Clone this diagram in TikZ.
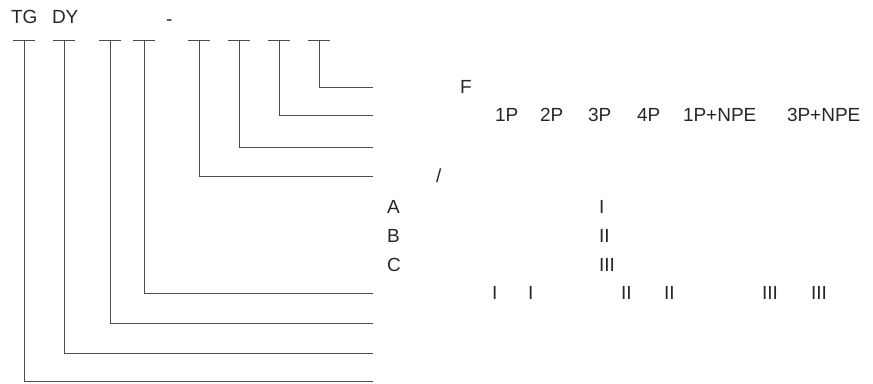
\documentclass[tikz,border=0pt]{standalone}
\usepackage{fontspec}
\setmainfont{Liberation Sans}
\begin{document}
\begin{tikzpicture}[x=1pt,y=-1pt,
  lbl/.style={anchor=west,inner sep=0pt,outer sep=0pt,text height=13.6pt,text depth=0pt,
    font=\fontsize{19}{21}\selectfont,text=black!85},
  lead/.style={draw=black!70,line width=0.9pt},
  tick/.style={draw=black!70,line width=0.9pt}]
\useasboundingbox (0,0) rectangle (873,383);
% header
\node[lbl] (tg) at (11,17) {TG};
\node[lbl] (dy) at (52,17) {DY};
\node[lbl] (dash) at (166,19) {-};
% tick tops
\foreach \n/\x in {t1/24,t2/64,t3/110,t4/144,t5/199,t6/239,t7/279,t8/319}{
  \coordinate (\n) at (\x,40);
  \draw[tick] ([xshift=-11pt]\n) -- ([xshift=11pt]\n);
}
% line ends
\foreach \n/\y in {e8/87,e7/115,e6/147,e5/176,e4/293,e3/323,e2/353,e1/381}{
  \coordinate (\n) at (373,\y);
}
\foreach \i in {1,...,8}{
  \draw[lead] (t\i) |- (e\i);
}
% row texts
\node[lbl] (f) at (460,87) {F};
\node[lbl] (p1) at (495,115) {1P};
\node[lbl] (p2) at (540,115) {2P};
\node[lbl] (p3) at (588,115) {3P};
\node[lbl] (p4) at (637,115) {4P};
\node[lbl] (p5) at (683,115) {1P+NPE};
\node[lbl] (p6) at (787,115) {3P+NPE};
\node[lbl] (sl) at (436,176) {/};
\node[lbl] (a) at (387,207) {A};
\node[lbl] (ai) at (599,207) {I};
\node[lbl] (b) at (387,236) {B};
\node[lbl] (bi) at (599,236) {II};
\node[lbl] (c) at (387,265) {C};
\node[lbl] (ci) at (599,265) {III};
\node[lbl] (r1) at (492,293) {I};
\node[lbl] (r2) at (528,293) {I};
\node[lbl] (r3) at (621,293) {II};
\node[lbl] (r4) at (664,293) {II};
\node[lbl] (r5) at (762,293) {III};
\node[lbl] (r6) at (811,293) {III};
\end{tikzpicture}
\end{document}
